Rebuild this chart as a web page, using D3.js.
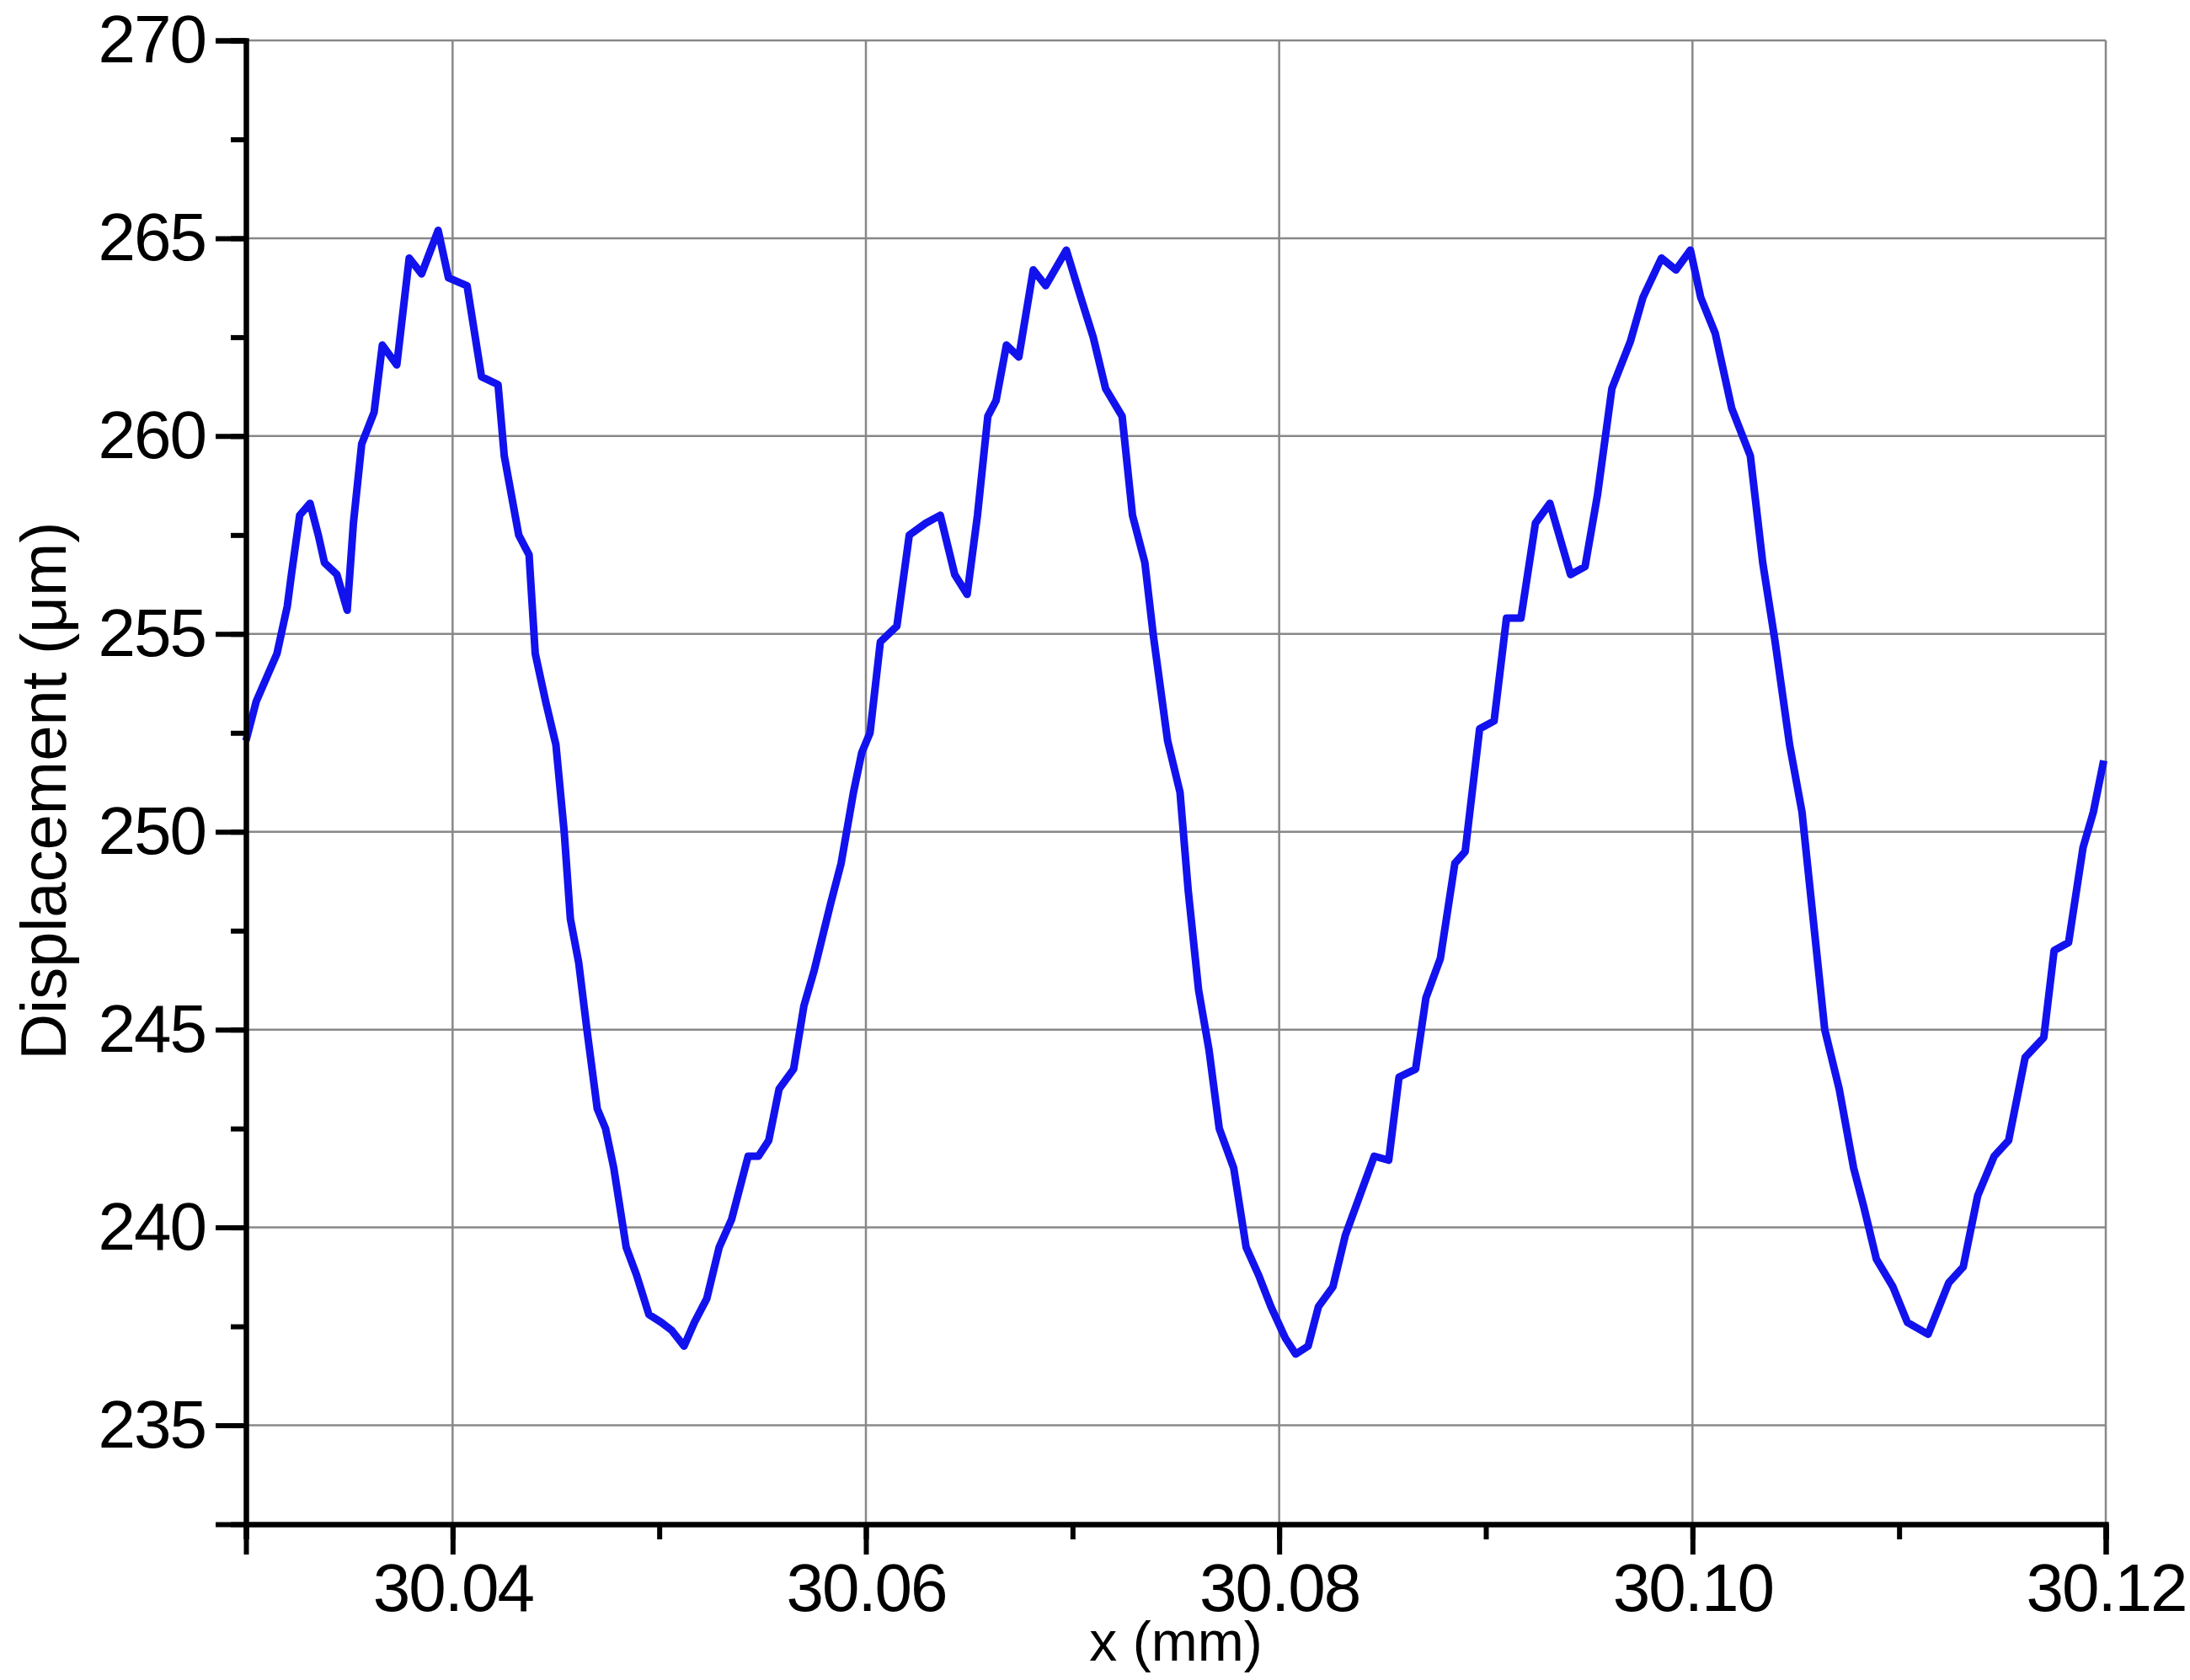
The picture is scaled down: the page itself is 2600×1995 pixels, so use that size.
<!DOCTYPE html>
<html><head><meta charset="utf-8">
<script src="https://cdn.jsdelivr.net/npm/d3@7"></script>
<style>body{margin:0;background:#fff}</style></head>
<body><svg id="c" width="2600" height="1995"></svg>
<script>
const xs=[30.0300,30.0305,30.0310,30.0315,30.0320,30.0322,30.0326,30.0331,30.0335,30.0338,30.0344,30.0349,30.0352,30.0356,30.0362,30.0366,30.0373,30.0379,30.0385,30.0393,30.0398,30.0407,30.0414,30.0422,30.0425,30.0432,30.0437,30.0440,30.0445,30.0450,30.0454,30.0457,30.0461,30.0465,30.0470,30.0474,30.0478,30.0484,30.0489,30.0495,30.0501,30.0506,30.0512,30.0517,30.0523,30.0529,30.0535,30.0543,30.0548,30.0553,30.0558,30.0565,30.0570,30.0575,30.0583,30.0588,30.0594,30.0598,30.0602,30.0607,30.0615,30.0621,30.0629,30.0636,30.0643,30.0649,30.0654,30.0659,30.0663,30.0668,30.0674,30.0681,30.0687,30.0697,30.0704,30.0710,30.0716,30.0724,30.0729,30.0735,30.0739,30.0746,30.0752,30.0756,30.0761,30.0766,30.0771,30.0778,30.0784,30.0790,30.0796,30.0803,30.0808,30.0814,30.0819,30.0826,30.0832,30.0839,30.0846,30.0853,30.0858,30.0866,30.0871,30.0878,30.0885,30.0890,30.0897,30.0904,30.0910,30.0917,30.0924,30.0931,30.0941,30.0948,30.0954,30.0961,30.0970,30.0976,30.0985,30.0992,30.0999,30.1004,30.1011,30.1019,30.1028,30.1034,30.1040,30.1047,30.1053,30.1059,30.1064,30.1071,30.1078,30.1083,30.1089,30.1097,30.1104,30.1114,30.1124,30.1131,30.1138,30.1146,30.1153,30.1161,30.1170,30.1175,30.1182,30.1189,30.1194,30.1199];
const ys=[252.3,253.3,253.9,254.5,255.7,256.5,258.0,258.3,257.5,256.8,256.5,255.6,257.8,259.8,260.6,262.3,261.8,264.5,264.1,265.2,264.0,263.8,261.5,261.3,259.5,257.5,257.0,254.5,253.3,252.2,250.0,247.8,246.7,245.0,243.0,242.5,241.5,239.5,238.8,237.8,237.6,237.4,237.0,237.6,238.2,239.5,240.2,241.8,241.8,242.2,243.5,244.0,245.6,246.5,248.2,249.2,251.0,252.0,252.5,254.8,255.2,257.5,257.8,258.0,256.5,256.0,258.0,260.5,260.9,262.3,262.0,264.2,263.8,264.7,263.5,262.5,261.2,260.5,258.0,256.8,255.0,252.3,251.0,248.5,246.0,244.5,242.5,241.5,239.5,238.8,238.0,237.2,236.8,237.0,238.0,238.5,239.8,240.8,241.8,241.7,243.8,244.0,245.8,246.8,249.2,249.5,252.6,252.8,255.4,255.4,257.8,258.3,256.5,256.7,258.5,261.2,262.4,263.5,264.5,264.2,264.7,263.5,262.6,260.7,259.5,256.8,254.8,252.2,250.5,247.5,245.0,243.5,241.5,240.5,239.2,238.5,237.6,237.3,238.6,239.0,240.8,241.8,242.2,244.3,244.8,247.0,247.2,249.6,250.5,251.8];
const xTicks=[30.04,30.06,30.08,30.10,30.12];
const yTicks=[235,240,245,250,255,260,265,270];
const svg=d3.select("#c");
const L=292,R=2500,T=48,B=1810;
const x=d3.scaleLinear().domain([30.03,30.12]).range([L,R]);
const y=d3.scaleLinear().domain([232.5,270]).range([B,T]);
const F="Liberation Sans, Arial, sans-serif";
const g=svg.append("g");
g.selectAll(".gx").data(xTicks).join("line").attr("x1",d=>x(d)).attr("x2",d=>x(d)).attr("y1",T).attr("y2",B).attr("stroke","#888").attr("stroke-width",2.5);
g.selectAll(".gy").data(yTicks).join("line").attr("y1",d=>y(d)).attr("y2",d=>y(d)).attr("x1",L).attr("x2",R).attr("stroke","#888").attr("stroke-width",2.5);
svg.append("path").datum(xs.map((v,i)=>[v,ys[i]])).attr("fill","none").attr("stroke","#1212ee").attr("stroke-width",9).attr("stroke-linejoin","round")
 .attr("d",d3.line().x(d=>x(d[0])).y(d=>y(d[1])));
const xa=svg.append("g").attr("transform",`translate(0,${B})`).call(d3.axisBottom(x).tickValues(d3.range(30.03,30.1201,0.01)).tickSize(18).tickFormat(""));
const xb=svg.append("g").attr("transform",`translate(0,${B})`).call(d3.axisBottom(x).tickValues(xTicks).tickSize(36).tickPadding(10).tickFormat(d3.format(".2f")));
const ya=svg.append("g").attr("transform",`translate(${L},0)`).call(d3.axisLeft(y).tickValues(d3.range(235,270.1,2.5)).tickSize(18).tickFormat(""));
const yb=svg.append("g").attr("transform",`translate(${L},0)`).call(d3.axisLeft(y).tickValues(yTicks).tickSize(36).tickPadding(12).tickFormat(d3.format("d")));
[xa,xb,ya,yb].forEach(a=>{a.selectAll("path").attr("stroke","#000").attr("stroke-width",6);a.selectAll("line").attr("stroke","#000").attr("stroke-width",6);a.selectAll("text").attr("font-family",F).attr("font-size",80).attr("letter-spacing",-2).attr("fill","#000");});
svg.append("text").attr("x",(L+R)/2).attr("y",1972).attr("text-anchor","middle").attr("font-family",F).attr("font-size",66).text("x (mm)");
svg.append("text").attr("transform",`translate(78,${(T+B)/2+10}) rotate(-90)`).attr("text-anchor","middle").attr("font-family",F).attr("font-size",76).text("Displacement (μm)");
</script></body></html>
